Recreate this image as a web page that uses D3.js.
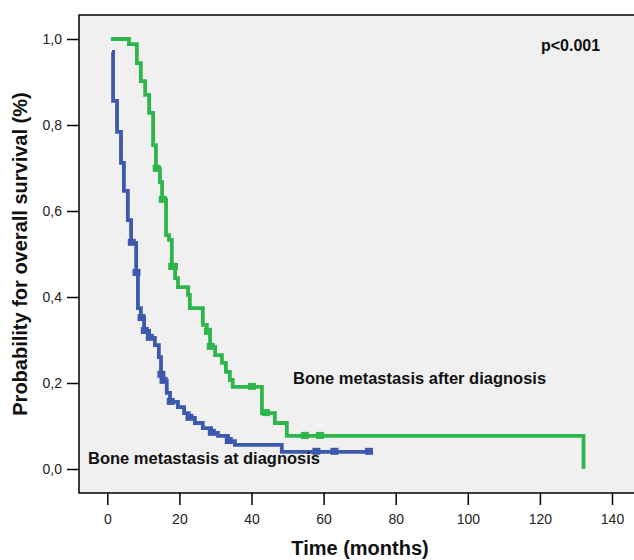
<!DOCTYPE html>
<html>
<head>
<meta charset="utf-8">
<script src="https://cdn.jsdelivr.net/npm/d3@7"></script>
<style>
  body { margin: 0; background: #fff; }
  text { font-family: "Liberation Sans", Arial, sans-serif; }
</style>
</head>
<body>
<svg id="km" width="634" height="560"></svg>
<script>
// Kaplan-Meier data (months, survival probability)
var afterTimes = [1, 6.0, 8.2, 9.3, 10.5, 11.6, 12.7, 13.5, 14.6, 15.2, 16.3, 17.1, 17.9, 18.8, 19.6, 22.4, 22.9, 26.5, 27.6, 28.5, 29.9, 31.8, 32.9, 34.0, 34.8, 42.9, 46.5, 49.8, 132.1, 132.1];
var afterSurv  = [1.0, 0.988, 0.944, 0.902, 0.870, 0.828, 0.753, 0.698, 0.667, 0.626, 0.544, 0.533, 0.470, 0.444, 0.423, 0.405, 0.374, 0.335, 0.319, 0.284, 0.265, 0.247, 0.226, 0.207, 0.191, 0.130, 0.107, 0.077, 0.077, 0.0];
var afterCensored = [13.7, 15.4, 18.0, 18.5, 27.9, 28.7, 40.1, 44.0, 54.8, 59.0];

var atTimes = [1.3, 1.6, 2.7, 3.8, 4.6, 5.7, 6.6, 8.0, 8.5, 9.3, 10.2, 11.6, 13.2, 14.3, 14.9, 15.4, 16.5, 17.4, 19.6, 21.3, 22.6, 24.3, 26.5, 28.8, 30.7, 33.5, 35.4, 48.4, 72.6];
var atSurv  = [0.970, 0.856, 0.784, 0.712, 0.647, 0.579, 0.526, 0.456, 0.374, 0.351, 0.321, 0.305, 0.288, 0.260, 0.219, 0.205, 0.177, 0.156, 0.144, 0.130, 0.119, 0.107, 0.095, 0.084, 0.077, 0.065, 0.056, 0.040, 0.040];
var atCensored = [6.8, 8.1, 9.5, 10.4, 11.8, 15.0, 15.6, 17.6, 22.8, 29.0, 33.7, 58.0, 63.0, 72.6];

var xTicks = [0, 20, 40, 60, 80, 100, 120, 140];
var yTicks = [0, 0.2, 0.4, 0.6, 0.8, 1.0];

var svg = d3.select("#km");

var x = d3.scaleLinear().domain([0, 140]).range([107.3, 612]);
var y = d3.scaleLinear().domain([0, 1]).range([469, 39]);

// plot panel
svg.append("rect")
    .attr("x", 79).attr("y", 15)
    .attr("width", 600).attr("height", 478)
    .attr("fill", "#f0f0f0")
    .attr("stroke", "#000")
    .attr("stroke-width", 1.5);

// axes
var xAxis = svg.append("g")
    .attr("transform", "translate(0,493)")
    .call(d3.axisBottom(x).tickValues(xTicks).tickSize(12).tickPadding(9).tickFormat(d3.format("d")));
var yAxis = svg.append("g")
    .attr("transform", "translate(79,0)")
    .call(d3.axisLeft(y).tickValues(yTicks).tickSize(12).tickPadding(5)
        .tickFormat(function(d) { return d3.format(".1f")(d).replace(".", ","); }));

[xAxis, yAxis].forEach(function(a) {
    a.select(".domain").remove();
    a.selectAll(".tick line").attr("stroke", "#000").attr("stroke-width", 1.5);
    a.selectAll(".tick text").attr("fill", "#222").style("font-size", "14px")
        .style("font-family", "'Liberation Sans', Arial, sans-serif");
});

// step function lookup for the censor marks
function survAt(times, surv, t) {
    var s = surv[0];
    for (var i = 0; i < times.length; i++) {
        if (times[i] <= t) s = surv[i];
    }
    return s;
}

function drawCurve(times, surv, censored, color) {
    var pts = times.map(function(t, i) { return [t, surv[i]]; });
    var line = d3.line()
        .x(function(d) { return x(d[0]); })
        .y(function(d) { return y(d[1]); })
        .curve(d3.curveStepAfter);

    svg.append("path")
        .datum(pts)
        .attr("d", line)
        .attr("fill", "none")
        .attr("stroke", color)
        .attr("stroke-width", 3.8);

    svg.selectAll(null)
        .data(censored)
        .enter()
        .append("rect")
        .attr("x", function(t) { return x(t) - 4; })
        .attr("y", function(t) { return y(survAt(times, surv, t)) - 4; })
        .attr("width", 8)
        .attr("height", 7)
        .attr("fill", color);
}

drawCurve(afterTimes, afterSurv, afterCensored, "#2eb54b");
drawCurve(atTimes, atSurv, atCensored, "#3d59ad");

// labels
svg.append("text")
    .attr("x", 541).attr("y", 51)
    .style("font-size", "16px").style("font-weight", "bold")
    .attr("fill", "#111")
    .text("p<0.001");

svg.append("text")
    .attr("x", 293).attr("y", 384)
    .style("font-size", "16.5px").style("font-weight", "bold")
    .attr("fill", "#111")
    .text("Bone metastasis after diagnosis");

svg.append("text")
    .attr("x", 88).attr("y", 464)
    .style("font-size", "16.5px").style("font-weight", "bold")
    .attr("fill", "#111")
    .text("Bone metastasis at diagnosis");

svg.append("text")
    .attr("x", 360).attr("y", 555)
    .attr("text-anchor", "middle")
    .style("font-size", "20px").style("font-weight", "bold")
    .attr("fill", "#111")
    .text("Time (months)");

svg.append("text")
    .attr("transform", "translate(27,254) rotate(-90)")
    .attr("text-anchor", "middle")
    .style("font-size", "20px").style("font-weight", "bold")
    .attr("fill", "#111")
    .text("Probability for overall survival (%)");
</script>
</body>
</html>
